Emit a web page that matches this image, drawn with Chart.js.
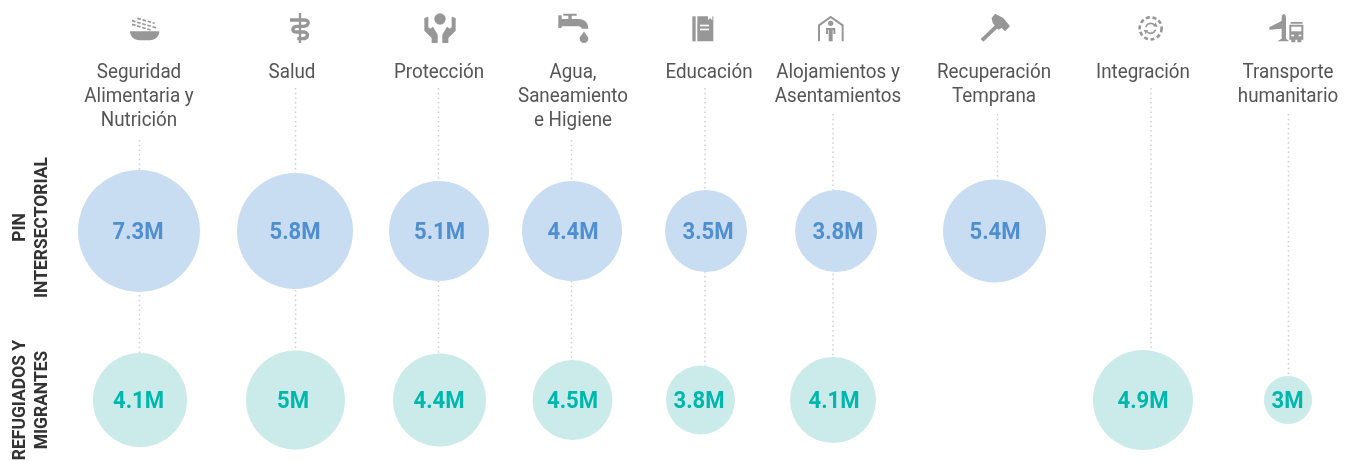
<!DOCTYPE html>
<html lang="es"><head><meta charset="utf-8">
<style>html,body{margin:0;padding:0;background:#fff}#w{width:1355px;height:461px;position:relative}</style>
<script src="https://cdn.jsdelivr.net/npm/chart.js@4/dist/chart.umd.min.js"></script>
</head><body><div id="w"><canvas id="c" width="1355" height="461"></canvas></div>
<script>
// ---- data ----
const categories = [
  ["Seguridad","Alimentaria y","Nutrición"],["Salud"],["Protección"],
  ["Agua,","Saneamiento","e Higiene"],["Educación"],["Alojamientos y","Asentamientos"],
  ["Recuperación","Temprana"],["Integración"],["Transporte","humanitario"]];
const rowLabels = [["PIN","INTERSECTORIAL"],["REFUGIADOS Y","MIGRANTES"]];
const pinValues     = [7.3,5.8,5.1,4.4,3.5,3.8,5.4,null,null];
const refugeeValues = [4.1,5,4.4,4.5,3.8,4.1,null,4.9,3];
// bubble radii as drawn in the reference (not proportional to the rounded labels)
const pinRadii     = [61,58,50,50,41,41,51.5,null,null];
const refugeeRadii = [47,49.5,46.5,40,34.5,43,null,50,24];
// ---- layout ----
const lineX = [139.5,295.5,438.5,571.5,705,833,997.5,1151,1288.5];
const pinX  = [139,295,439,572,706,836,994.5,null,null];
const refX  = [140,295.5,439.5,572.5,700.5,833,null,1143,1288];
const labelX= [139,292,439,573,709,838,994,1143,1288];
const pinTextX = [138,295,439.5,573,708,838,995,null,null];
const refTextX = [138.5,293,439,572.5,699,834,null,1143,1287.5];
const rowPix=[231,400];
const COND=0.94;

function textC(ctx,s,x,y,font,color,sx){
  ctx.save();ctx.font=font;ctx.fillStyle=color;ctx.textAlign='center';ctx.textBaseline='alphabetic';
  ctx.translate(x,y);ctx.scale(sx,1);ctx.fillText(s,0,0);ctx.restore();
}
const G='#979797';
const white=(ctx,fn)=>{ctx.save();ctx.fillStyle='#fff';ctx.strokeStyle='#fff';fn();ctx.restore();};
// icons: [originX, originY, painter]; painter coordinates are 3× pixels
const icons=[
 [120,8,ctx=>{ // bowl
   ctx.fill(new Path2D('M30 70H118C118 85 105 97 90 97H58C43 97 30 85 30 70Z'));
   ctx.lineWidth=5;ctx.setLineDash([11,5]);
   ['M52 31L104 46','M36 38L110 60','M36 49L92 66'].forEach(p=>ctx.stroke(new Path2D(p)));ctx.setLineDash([]);}],
 [120,8,ctx=>{ // asclepius
   ctx.lineWidth=7;ctx.stroke(new Path2D('M540 15V105'));ctx.lineWidth=10;
   ctx.stroke(new Path2D('M510 36H555C572 38 565 55 550 55H530C515 57 515 72 530 72H552C568 74 565 92 548 92H532'));}],
 [415,8,ctx=>{ // hands
   ctx.beginPath();ctx.arc(75,33,17,0,7);ctx.fill();
   [0,1].forEach(m=>{ctx.save();if(m){ctx.translate(150,0);ctx.scale(-1,1);}
     ctx.fill(new Path2D('M28 30L40 26V58L46 62L54 56L68 80V105H50V90L28 68Z'));ctx.restore();});}],
 [415,8,ctx=>{ // tap
   ctx.fill(new Path2D('M430 22H440V33H460V23H445V17H485V23H470V33H490C510 33 520 45 520 62H500C500 58 497 55 490 55H440V60H430Z'));
   ctx.fill(new Path2D('M507 70C512 80 520 85 520 92A13 13 0 0 1 494 92C494 85 502 80 507 70Z'));}],
 [680,8,ctx=>{ // book
   ctx.fill(new Path2D('M37 25H47V100H37Z'));
   ctx.fill(new Path2D('M52 25H84V37L90 30L97 37V25H100V100H52Z'));
   white(ctx,()=>{ctx.fillRect(60,50,27,5);ctx.fillRect(60,62,27,5);});}],
 [680,8,ctx=>{ // shelter
   ctx.lineWidth=6;ctx.stroke(new Path2D('M417 100V52L452 27L488 52V100'));
   ctx.beginPath();ctx.arc(452,46,8,0,7);ctx.fill();
   ctx.fill(new Path2D('M438 60H466V78H460V66H458V100H446V66H444V78H438Z'));}],
 [970,8,ctx=>{ // hammer
   ctx.lineWidth=12;ctx.stroke(new Path2D('M36 97L82 53'));
   ctx.fill(new Path2D('M65 30L75 17L100 30L120 55L105 70L95 60L85 65L68 45Z'));}],
 [970,8,ctx=>{ // integration
   ctx.lineWidth=8;ctx.setLineDash([12,8]);ctx.beginPath();ctx.arc(542,61,33,0,7);ctx.stroke();ctx.setLineDash([]);
   ctx.lineWidth=5;ctx.beginPath();ctx.arc(542,61,15,0.3,2.6);ctx.stroke();ctx.beginPath();ctx.arc(542,61,15,3.4,5.8);ctx.stroke();
   ctx.fill(new Path2D('M557 43L563 57L550 55ZM527 79L521 65L534 67Z'));}],
 [1260,8,ctx=>{ // plane + truck
   ctx.fill(new Path2D('M65 30C65 22 69 18 71.5 18C74 18 78 22 78 30V92L88 100H52L65 92Z'));
   ctx.fill(new Path2D('M28 58L66 38V62L28 65Z'));
   ctx.fill(new Path2D('M92 42H128V47H92ZM88 50H130V95H124V103H112V95H106V103H94V95H88Z'));
   white(ctx,()=>{ctx.fillRect(94,56,30,14);ctx.fillRect(94,80,8,5);ctx.fillRect(116,80,8,5);});}]
];

const backdrop={id:'backdrop',beforeDatasetsDraw(ch){
  const ctx=ch.ctx,y=ch.scales.y;
  ctx.save();ctx.strokeStyle='#cfcfcf';ctx.lineWidth=1.5;ctx.setLineDash([1.5,3.2]);
  categories.forEach((c,i)=>{
    const top=[88,114,140][c.length-1];
    const bottomRow=refugeeValues[i]!=null?1:0;
    ctx.beginPath();ctx.moveTo(lineX[i],top);ctx.lineTo(lineX[i],y.getPixelForValue(bottomRow));ctx.stroke();
  });
  ctx.restore();
}};
const overlay={id:'overlay',afterDatasetsDraw(ch){
  const ctx=ch.ctx;
  icons.forEach(([x,y,fn])=>{ctx.save();ctx.translate(x,y);ctx.scale(1/3,1/3);ctx.fillStyle=G;ctx.strokeStyle=G;fn(ctx);ctx.restore();});
  categories.forEach((lines,i)=>lines.forEach((s,k)=>
    textC(ctx,s,labelX[i],78+k*24,'400 20px Roboto','#555',COND)));
  ch.data.datasets.forEach((ds,d)=>{
    const meta=ch.getDatasetMeta(d);
    ds.labels.forEach((v,i)=>{
      textC(ctx,v+'M',ds.textX[i],meta.data[i].y+8,'700 24px Roboto',ds.textColor,0.92);
    });
  });
  rowLabels.forEach((lines,r)=>lines.forEach((s,k)=>{
    ctx.save();ctx.translate([25,47][k],[227.5,400][r]);ctx.rotate(-Math.PI/2);
    ctx.font='700 18px Roboto';ctx.fillStyle='#333';ctx.textAlign='center';ctx.textBaseline='alphabetic';
    ctx.scale(0.97,1);ctx.fillText(s,0,0);ctx.restore();
  }));
}};
function pts(vals,xs,rs,row){return vals.map((v,i)=>v==null?null:{x:xs[i],y:row,r:rs[i]}).filter(Boolean);}
new Chart(document.getElementById('c'),{
  type:'bubble',
  data:{datasets:[
    {label:'PIN Intersectorial',data:pts(pinValues,pinX,pinRadii,0),labels:pinValues.filter(v=>v!=null),textX:pinTextX.filter(v=>v!=null),
     backgroundColor:'#c8ddf2',borderWidth:0,hoverBorderWidth:0,hoverRadius:0,textColor:'#4f8fcf'},
    {label:'Refugiados y Migrantes',data:pts(refugeeValues,refX,refugeeRadii,1),labels:refugeeValues.filter(v=>v!=null),textX:refTextX.filter(v=>v!=null),
     backgroundColor:'#cbeaea',borderWidth:0,hoverBorderWidth:0,hoverRadius:0,textColor:'#00b7ae'}
  ]},
  options:{responsive:false,animation:false,events:[],
    layout:{padding:0,autoPadding:false},
    plugins:{legend:{display:false},tooltip:{enabled:false}},
    scales:{
      x:{type:'linear',display:false,min:0,max:1355},
      y:{type:'linear',display:false,reverse:true,
         min:-rowPix[0]/(rowPix[1]-rowPix[0]),max:(461-rowPix[0])/(rowPix[1]-rowPix[0])}
    }},
  plugins:[backdrop,overlay]
});
</script></body></html>
